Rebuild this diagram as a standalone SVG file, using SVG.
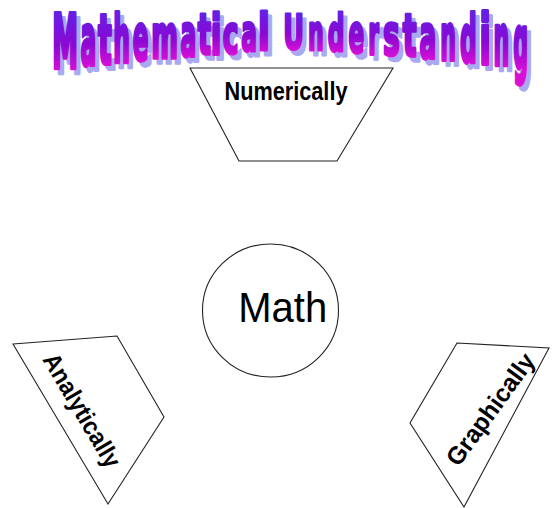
<svg xmlns="http://www.w3.org/2000/svg" xmlns:xlink="http://www.w3.org/1999/xlink" width="552" height="508" viewBox="0 0 552 508">
<style>
.shape{fill:#fff;stroke:#222;stroke-width:1.1}
.lbl{font-family:"Liberation Sans",Arial,sans-serif;font-weight:bold;font-size:25px;fill:#000;text-anchor:middle}
.math{font-family:"Liberation Sans",Arial,sans-serif;font-size:43px;fill:#000;text-anchor:middle}
.tl{font-family:"DejaVu Sans Condensed","DejaVu Sans",sans-serif;font-stretch:condensed;font-weight:bold;font-size:40px;text-anchor:middle;stroke-width:2.4;stroke-linejoin:round}
</style>
<defs>
<linearGradient id="tg" gradientUnits="userSpaceOnUse" x1="0" y1="-30" x2="0" y2="2">
<stop offset="0" stop-color="#6420e6"/>
<stop offset="0.55" stop-color="#8a08d2"/>
<stop offset="1" stop-color="#d810d6"/>
</linearGradient>
<g id="letters" class="tl">
<text transform="translate(65,68) scale(1,1.87)" textLength="25.7" lengthAdjust="spacingAndGlyphs">M</text>
<text transform="translate(88.4,65.3) scale(1,1.78)" textLength="15.7" lengthAdjust="spacingAndGlyphs">a</text>
<text transform="translate(104.8,63.5) scale(1,1.72)" textLength="13.7" lengthAdjust="spacingAndGlyphs">t</text>
<text transform="translate(121.7,61.8) scale(1,1.66)" textLength="16.7" lengthAdjust="spacingAndGlyphs">h</text>
<text transform="translate(140.6,59.9) scale(1,1.595)" textLength="15.7" lengthAdjust="spacingAndGlyphs">e</text>
<text transform="translate(164.5,57.7) scale(1,1.52)" textLength="26.7" lengthAdjust="spacingAndGlyphs">m</text>
<text transform="translate(188.4,55.6) scale(1,1.45)" textLength="15.7" lengthAdjust="spacingAndGlyphs">a</text>
<text transform="translate(204.3,54.4) scale(1,1.41)" textLength="13.2" lengthAdjust="spacingAndGlyphs">t</text>
<text transform="translate(216.2,53.5) scale(1,1.38)" textLength="10.7" lengthAdjust="spacingAndGlyphs">i</text>
<text transform="translate(230.6,52.5) scale(1,1.345)" textLength="15.7" lengthAdjust="spacingAndGlyphs">c</text>
<text transform="translate(249,51.3) scale(1,1.305)" textLength="15.7" lengthAdjust="spacingAndGlyphs">a</text>
<text transform="translate(263.9,50.4) scale(1,1.275)" textLength="11.7" lengthAdjust="spacingAndGlyphs">l</text>
<text transform="translate(293.5,48.8) scale(1,1.22)" textLength="20.7" lengthAdjust="spacingAndGlyphs">U</text>
<text transform="translate(315.75,49.8) scale(1,1.255)" textLength="15.7" lengthAdjust="spacingAndGlyphs">n</text>
<text transform="translate(336,51) scale(1,1.295)" textLength="16.7" lengthAdjust="spacingAndGlyphs">d</text>
<text transform="translate(356.25,52.3) scale(1,1.34)" textLength="15.7" lengthAdjust="spacingAndGlyphs">e</text>
<text transform="translate(373.5,53.5) scale(1,1.38)" textLength="10.7" lengthAdjust="spacingAndGlyphs">r</text>
<text transform="translate(391.25,54.8) scale(1,1.425)" textLength="16.7" lengthAdjust="spacingAndGlyphs">s</text>
<text transform="translate(409.5,56.3) scale(1,1.475)" textLength="13.7" lengthAdjust="spacingAndGlyphs">t</text>
<text transform="translate(427.75,57.9) scale(1,1.53)" textLength="16.7" lengthAdjust="spacingAndGlyphs">a</text>
<text transform="translate(448,59.8) scale(1,1.59)" textLength="15.7" lengthAdjust="spacingAndGlyphs">n</text>
<text transform="translate(468.25,61.8) scale(1,1.66)" textLength="16.7" lengthAdjust="spacingAndGlyphs">d</text>
<text transform="translate(485,63.5) scale(1,1.72)" textLength="11.2" lengthAdjust="spacingAndGlyphs">i</text>
<text transform="translate(501.25,65.3) scale(1,1.78)" textLength="15.7" lengthAdjust="spacingAndGlyphs">n</text>
<text transform="translate(520.5,67.5) scale(1,1.85)" textLength="14.7" lengthAdjust="spacingAndGlyphs">g</text>
</g>
</defs>
<g id="title">
<use xlink:href="#letters" href="#letters" fill="#a9a9f2" stroke="#a9a9f2" transform="translate(4,5)"/>
<use xlink:href="#letters" href="#letters" fill="url(#tg)" stroke="url(#tg)"/>
</g>
<g id="connectors"></g>
<g id="node-numerically">
<polygon class="shape" points="190,68 393,68 337,161 239,161"/>
<text class="lbl" x="286" y="100" textLength="123" lengthAdjust="spacingAndGlyphs">Numerically</text>
</g>
<g id="node-math">
<ellipse class="shape" cx="270.5" cy="310.5" rx="68" ry="66.5"/>
<text class="math" x="282.7" y="321.7" textLength="89" lengthAdjust="spacingAndGlyphs">Math</text>
</g>
<g id="node-analytically">
<polygon class="shape" points="13,344 117,336 164,417 108,504"/>
<text class="lbl" transform="translate(74.6,414.6) rotate(59.4)" textLength="128" lengthAdjust="spacingAndGlyphs">Analytically</text>
</g>
<g id="node-graphically">
<polygon class="shape" points="457,343 549,348 464,507 410,423"/>
<text class="lbl" transform="translate(497.3,414.3) rotate(-54)" textLength="132" lengthAdjust="spacingAndGlyphs">Graphically</text>
</g>
</svg>
